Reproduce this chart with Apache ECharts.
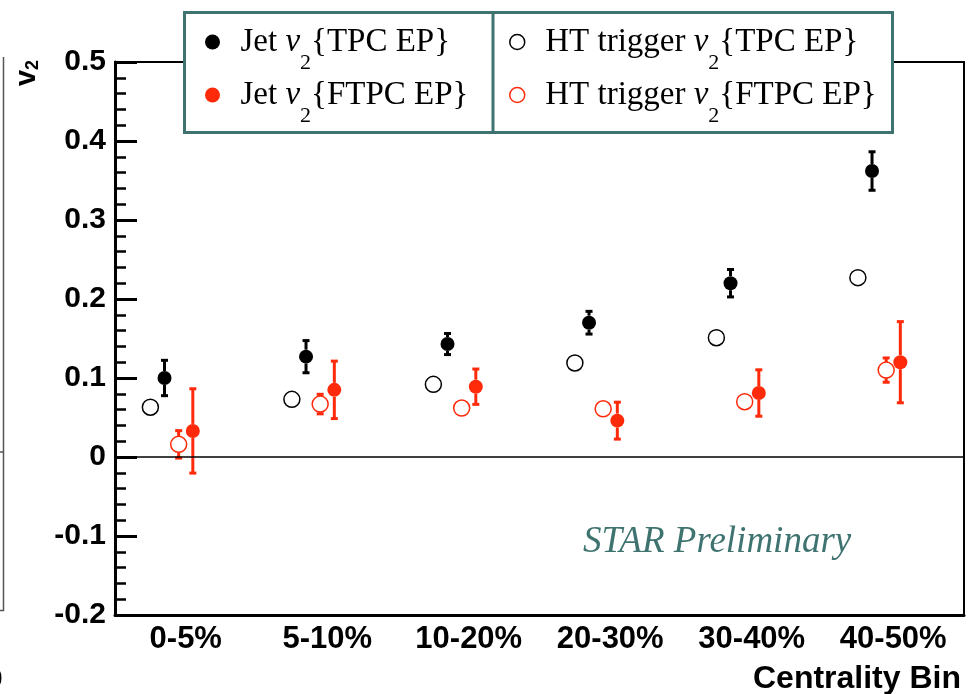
<!DOCTYPE html>
<html>
<head>
<meta charset="utf-8">
<script src="https://cdn.jsdelivr.net/npm/echarts@6/dist/echarts.min.js"></script>
<style>
  html, body { margin: 0; padding: 0; background: #fff; }
  #chart { width: 968px; height: 694px; }
</style>
</head>
<body>
<div id="chart"></div>
<script>
// Centrality bins along the x axis
const centralityBins = ['0-5%', '5-10%', '10-20%', '20-30%', '30-40%', '40-50%'];

// y-axis ticks
const yTickValues = [-0.2, -0.1, 0, 0.1, 0.2, 0.3, 0.4, 0.5];

// Jet v2 with TPC event plane
const jetTpc    = [0.100, 0.127, 0.143, 0.170, 0.220, 0.362];
const jetTpcErr = [0.023, 0.021, 0.014, 0.015, 0.018, 0.025];

// Jet v2 with FTPC event plane
const jetFtpc    = [0.033, 0.085, 0.089, 0.046, 0.081, 0.120];
const jetFtpcErr = [0.054, 0.037, 0.023, 0.024, 0.030, 0.052];

// High-tower trigger v2 with TPC event plane
const htTpc    = [0.063, 0.073, 0.092, 0.119, 0.151, 0.227];
const htTpcErr = [0.004, 0.004, 0.004, 0.004, 0.004, 0.005];

// High-tower trigger v2 with FTPC event plane
const htFtpc    = [0.016, 0.067, 0.062, 0.061, 0.070, 0.110];
const htFtpcErr = [0.018, 0.013, 0.005, 0.005, 0.005, 0.016];

const RED = '#ff2a0a';
const TEAL = '#3e7370';

const NAME_JET_TPC = 'Jet v2{TPC EP}';
const NAME_JET_FTPC = 'Jet v2{FTPC EP}';
const NAME_HT_TPC = 'HT trigger v2{TPC EP}';
const NAME_HT_FTPC = 'HT trigger v2{FTPC EP}';

const legendText = {};
legendText[NAME_JET_TPC] = 'Jet {i|v}{sub|2}{TPC EP}';
legendText[NAME_JET_FTPC] = 'Jet {i|v}{sub|2}{FTPC EP}';
legendText[NAME_HT_TPC] = 'HT trigger {i|v}{sub|2}{TPC EP}';
legendText[NAME_HT_FTPC] = 'HT trigger {i|v}{sub|2}{FTPC EP}';

// each set sits at a small offset inside its centrality bin
const sets = [
  { name: NAME_HT_TPC,   values: htTpc,   errors: htTpcErr,   offset: -0.25, color: '#000', hollow: true,  size: 16 },
  { name: NAME_HT_FTPC,  values: htFtpc,  errors: htFtpcErr,  offset: -0.05, color: RED,    hollow: true,  size: 16 },
  { name: NAME_JET_TPC,  values: jetTpc,  errors: jetTpcErr,  offset: -0.15, color: '#000', hollow: false, size: 14 },
  { name: NAME_JET_FTPC, values: jetFtpc, errors: jetFtpcErr, offset: 0.05,  color: RED,    hollow: false, size: 14 }
];

// vertical error bar with end caps; the part hidden by the marker is skipped
function errorBarRenderer(color, radius) {
  return function (params, api) {
    const x = api.value(0), y = api.value(1), e = api.value(2);
    const c = api.coord([x, y]);
    const top = api.coord([x, y + e])[1];
    const bot = api.coord([x, y - e])[1];
    const children = [];
    const style = { fill: color };
    if (c[1] - top > radius) {
      children.push({ type: 'rect', shape: { x: c[0] - 1.5, y: top, width: 3, height: c[1] - radius - top }, style });
      children.push({ type: 'rect', shape: { x: c[0] - 3.5, y: top - 1, width: 7, height: 3 }, style });
    }
    if (bot - c[1] > radius) {
      children.push({ type: 'rect', shape: { x: c[0] - 1.5, y: c[1] + radius, width: 3, height: bot - c[1] - radius }, style });
      children.push({ type: 'rect', shape: { x: c[0] - 3.5, y: bot - 2, width: 7, height: 3 }, style });
    }
    return { type: 'group', children };
  };
}

const series = [];
sets.forEach(function (s) {
  series.push({
    name: s.name + ' error',
    type: 'custom',
    xAxisIndex: 1,
    silent: true,
    renderItem: errorBarRenderer(s.color, s.size / 2),
    data: s.values.map((v, i) => [i + s.offset, v, s.errors[i]]),
    z: 2
  });
});
sets.forEach(function (s, k) {
  const item = {
    name: s.name,
    type: 'scatter',
    xAxisIndex: 1,
    symbol: 'circle',
    symbolSize: s.size,
    itemStyle: s.hollow
      ? { color: '#fff', borderColor: s.color, borderWidth: 1.5, opacity: 1 }
      : { color: s.color, opacity: 1 },
    data: s.values.map((v, i) => [i + s.offset, v]),
    z: 3
  };
  if (k === 0) {
    item.markLine = {
      silent: true,
      symbol: 'none',
      label: { show: false },
      lineStyle: { color: '#000', width: 1.5, type: 'solid' },
      data: [{ yAxis: 0 }]
    };
  }
  series.push(item);
});

const legendCommon = {
  orient: 'horizontal',
  padding: 0,
  itemWidth: 46,
  itemHeight: 15,
  selectedMode: false,
  formatter: function (name) { return legendText[name]; },
  textStyle: {
    fontFamily: 'Liberation Serif',
    fontSize: 33,
    color: '#000',
    lineHeight: 50,
    rich: {
      i: { fontFamily: 'Liberation Serif', fontStyle: 'italic', fontSize: 33, color: '#000' },
      sub: { fontFamily: 'Liberation Serif', fontSize: 22, color: '#000',
             verticalAlign: 'top', lineHeight: 14, padding: [35, 0, 0, 0] }
    }
  }
};

function legendAt(name, left, top, hollow, color) {
  return Object.assign({}, legendCommon, {
    left: left,
    top: top,
    data: [{
      name: name,
      icon: 'circle',
      itemStyle: hollow
        ? { color: '#fff', borderColor: color, borderWidth: 1.5 }
        : { color: color, borderWidth: 0 }
    }]
  });
}

const yFormat = function (v) {
  const r = Math.round(v * 10) / 10;
  return r === 0 ? '0' : r.toFixed(1);
};

const option = {
  animation: false,
  backgroundColor: '#fff',
  grid: {
    left: 115, right: 4, top: 62, bottom: 79,
    show: true, borderColor: '#000', borderWidth: 2,
    containLabel: false, outerBoundsMode: 'none'
  },
  xAxis: [
    {
      type: 'category',
      data: centralityBins,
      boundaryGap: true,
      axisLine: { onZero: false, lineStyle: { color: '#000', width: 3 } },
      axisTick: { alignWithLabel: true, inside: true, length: 22, lineStyle: { color: '#000', width: 2 } },
      axisLabel: {
        interval: 0, margin: 9, color: '#000',
        fontFamily: 'Liberation Sans', fontWeight: 'bold', fontSize: 31
      },
      splitLine: { show: false }
    },
    { type: 'value', min: -0.5, max: 5.5, show: false }
  ],
  yAxis: {
    type: 'value',
    min: yTickValues[0],
    max: yTickValues[yTickValues.length - 1],
    interval: 0.1,
    axisLine: { show: true, onZero: false, lineStyle: { color: '#000', width: 3 } },
    axisTick: { show: true, inside: true, length: 22, lineStyle: { color: '#000', width: 3 } },
    minorTick: { show: true, splitNumber: 5, length: 11, lineStyle: { color: '#000', width: 2.5 } },
    splitLine: { show: false },
    minorSplitLine: { show: false },
    axisLabel: {
      formatter: yFormat, margin: 9, color: '#000',
      fontFamily: 'Liberation Sans', fontWeight: 'bold', fontSize: 30
    }
  },
  legend: [
    legendAt(NAME_JET_TPC, 205, 17, false, '#000'),
    legendAt(NAME_JET_FTPC, 205, 70, false, RED),
    legendAt(NAME_HT_TPC, 509, 17, true, '#000'),
    legendAt(NAME_HT_FTPC, 509, 70, true, RED)
  ],
  graphic: [
    // legend frame with its column divider
    { type: 'rect', z: 3, shape: { x: 184.5, y: 12.5, width: 708, height: 120 },
      style: { fill: '#fff', stroke: TEAL, lineWidth: 3 } },
    { type: 'line', z: 3, shape: { x1: 493, y1: 12.5, x2: 493, y2: 132.5 },
      style: { stroke: TEAL, lineWidth: 3 } },
    // y-axis title
    { type: 'text', z: 5, x: 27, y: 73, rotation: Math.PI / 2,
      style: {
        text: '{v|v}{s|2}',
        align: 'center', verticalAlign: 'middle',
        rich: {
          v: { fontFamily: 'Liberation Sans', fontWeight: 'bold', fontSize: 29, color: '#000', lineHeight: 30 },
          s: { fontFamily: 'Liberation Sans', fontWeight: 'bold', fontSize: 18, color: '#000', verticalAlign: 'bottom', lineHeight: 10 }
        }
      } },
    // x-axis title
    { type: 'text', z: 5, x: 961, y: 679,
      style: {
        text: 'Centrality Bin',
        fontFamily: 'Liberation Sans', fontWeight: 'bold', fontSize: 32,
        fill: '#000', align: 'right', verticalAlign: 'middle'
      } },
    // preliminary tag
    { type: 'text', z: 5, x: 583, y: 542,
      style: {
        text: 'STAR Preliminary',
        fontFamily: 'Liberation Serif', fontStyle: 'italic', fontSize: 37,
        fill: TEAL, align: 'left', verticalAlign: 'middle'
      } },
    // edge of the neighbouring panel on the left
    { type: 'line', z: 1, shape: { x1: 3.5, y1: 57, x2: 3.5, y2: 611 },
      style: { stroke: '#555', lineWidth: 1.5 } },
    { type: 'line', z: 1, shape: { x1: 0, y1: 452, x2: 4, y2: 452 },
      style: { stroke: '#555', lineWidth: 1.5 } },
    { type: 'line', z: 1, shape: { x1: 0, y1: 610.5, x2: 4, y2: 610.5 },
      style: { stroke: '#555', lineWidth: 1.5 } },
    { type: 'text', z: 1, x: -14, y: 680,
      style: { text: '0', fontFamily: 'Liberation Sans', fontWeight: 'bold', fontSize: 30,
        fill: '#000', align: 'left', verticalAlign: 'middle' } }
  ],
  series: series
};

const chart = echarts.init(document.getElementById('chart'), null, { renderer: 'canvas' });
chart.setOption(option);
</script>
</body>
</html>
